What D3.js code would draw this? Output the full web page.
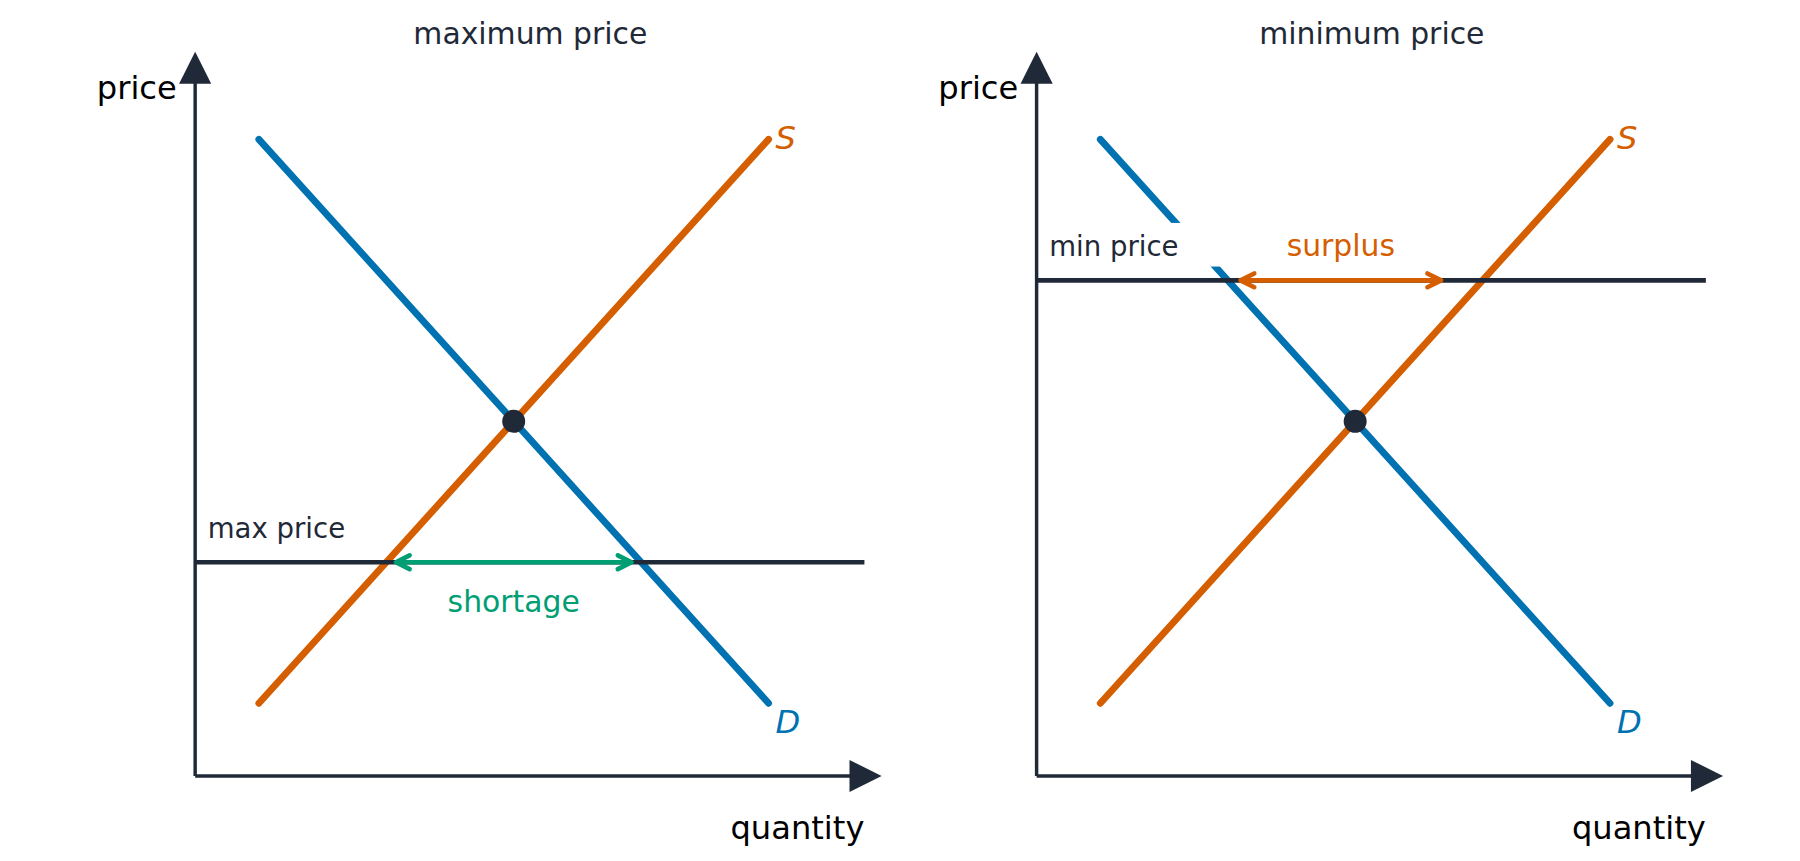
<!DOCTYPE html>
<html><head><meta charset="utf-8">
<script src="https://cdn.jsdelivr.net/npm/d3@7"></script>
<style>body{margin:0;background:#fff}text{font-family:"DejaVu Sans",sans-serif}</style>
</head><body><svg id="c" width="1800" height="861"></svg>
<script>
const panels = ["maximum price","minimum price"];
const ceilingLabels = ["max price","min price"];
const ceilingPrices = [3, 7];
const gapLabels = ["shortage","surplus"];
const gapRanges = [[3.15,6.85],[3.2,6.35]];
const supply = [[1,1],[9,9]];
const demand = [[1,9],[9,1]];
const equilibrium = [5,5];
const dark="#1f2937", blue="#0072B2", orange="#D55E00", green="#009E73";
const svg=d3.select("#c").append("g").attr("transform",`scale(${1800/1568})`);
panels.forEach((title,i)=>{
  const ox=i*733;
  const x=d3.scaleLinear().domain([0,10]).range([170+ox,725+ox]);
  const y=d3.scaleLinear().domain([0,10]).range([674,60]);
  const g=svg.append("g");
  const col=i==0?green:orange;
  g.append("text").attr("x",462+ox).attr("y",38).attr("text-anchor","middle").attr("font-size",26).attr("fill",dark).text(title);
  g.append("line").attr("x1",x(0)).attr("y1",676).attr("x2",x(0)).attr("y2",72).attr("stroke",dark).attr("stroke-width",3);
  g.append("path").attr("d",`M${x(0)-14},73L${x(0)},45L${x(0)+14},73Z`).attr("fill",dark);
  g.append("line").attr("x1",x(0)).attr("y1",676).attr("x2",741+ox).attr("y2",676).attr("stroke",dark).attr("stroke-width",3);
  g.append("path").attr("d",`M${740+ox},662L${768+ox},676L${740+ox},690Z`).attr("fill",dark);
  g.append("text").attr("x",x(0)-16).attr("y",86).attr("text-anchor","end").attr("font-size",28).attr("fill","#000").text("price");
  g.append("text").attr("x",753+ox).attr("y",731).attr("text-anchor","end").attr("font-size",28).attr("fill","#000").text("quantity");
  const ln=d3.line().x(d=>x(d[0])).y(d=>y(d[1]));
  g.append("path").attr("d",ln(demand)).attr("stroke",blue).attr("stroke-width",6).attr("stroke-linecap","round").attr("fill","none");
  g.append("path").attr("d",ln(supply)).attr("stroke",orange).attr("stroke-width",6).attr("stroke-linecap","round").attr("fill","none");
  g.append("text").attr("x",x(9)+6).attr("y",y(9)+8).attr("font-size",28).attr("font-style","italic").attr("fill",orange).text("S");
  g.append("text").attr("x",x(9)+6).attr("y",y(1)+26).attr("font-size",28).attr("font-style","italic").attr("fill",blue).text("D");
  const py=y(ceilingPrices[i]);
  g.append("line").attr("x1",x(0)).attr("x2",753+ox).attr("y1",py).attr("y2",py).attr("stroke",dark).attr("stroke-width",4);
  if(i==1) g.append("rect").attr("x",x(0)+6).attr("y",py-50).attr("width",158).attr("height",38).attr("fill","#fff");
  g.append("text").attr("x",x(0)+11).attr("y",py-21).attr("font-size",24).attr("fill",dark).text(ceilingLabels[i]);
  const [a,b]=gapRanges[i];
  g.append("line").attr("x1",x(a)).attr("x2",x(b)).attr("y1",py).attr("y2",py).attr("stroke",col).attr("stroke-width",4);
  [[x(a),1],[x(b),-1]].forEach(([px,s])=>g.append("path").attr("d",`M${px+s*12},${py-6}L${px},${py}L${px+s*12},${py+6}`)
    .attr("stroke",col).attr("stroke-width",4).attr("fill","none").attr("stroke-linecap","round").attr("stroke-linejoin","round"));
  g.append("text").attr("x",x((a+b)/2)).attr("y",i==0?py+43:py-21).attr("text-anchor","middle").attr("font-size",26).attr("fill",col).text(gapLabels[i]);
  g.append("circle").attr("cx",x(equilibrium[0])).attr("cy",y(equilibrium[1])).attr("r",10).attr("fill",dark);
});
</script></body></html>
